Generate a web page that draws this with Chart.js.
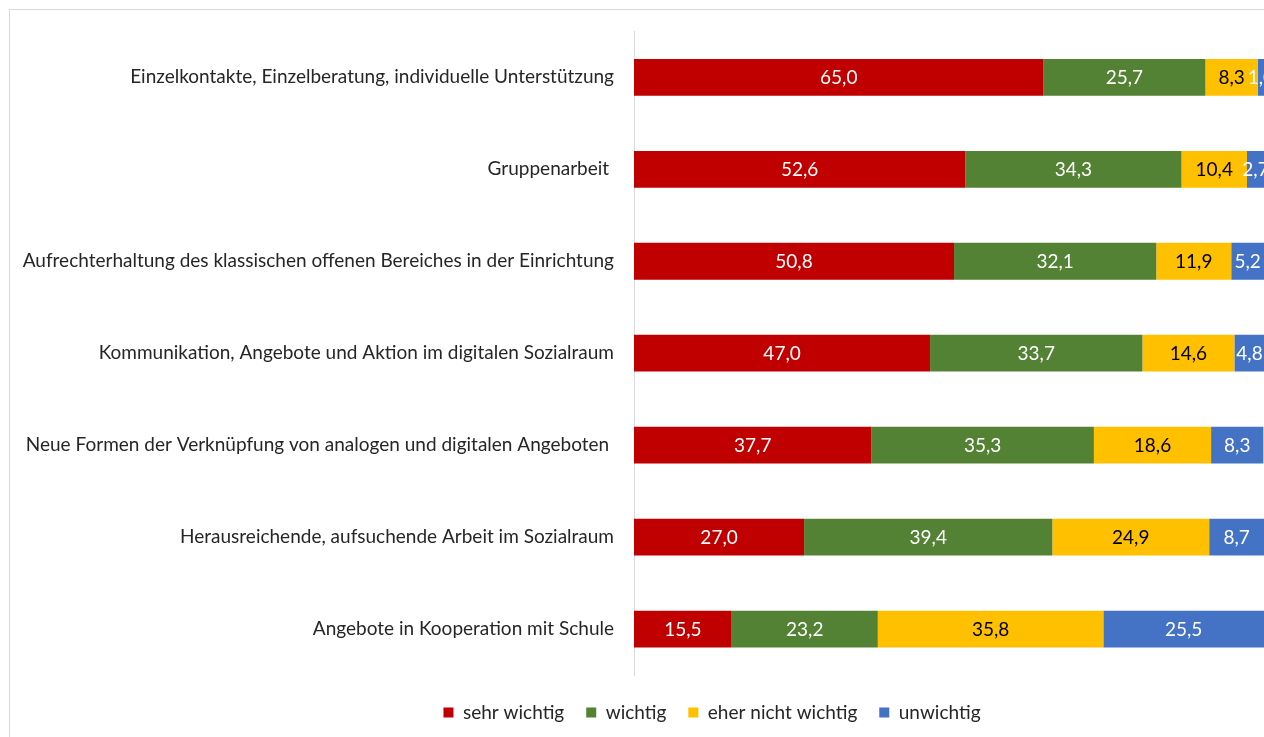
<!DOCTYPE html>
<html>
<head>
	<meta charset="utf-8">
	<title>Angebote</title>
	<style>
		html, body { margin: 0; padding: 0; overflow: hidden; background: #fff; }
		.wrap { width: 1424px; height: 737px; }
	</style>
</head>
<body>
	<div class="wrap"><canvas id="chart" width="1424" height="737"></canvas></div>
	<script src="https://cdn.jsdelivr.net/npm/chart.js@4/dist/chart.umd.min.js"></script>
	<script>
		'use strict'

		const categories = [
			'Einzelkontakte, Einzelberatung, individuelle Unterstützung',
			'Gruppenarbeit ',
			'Aufrechterhaltung des klassischen offenen Bereiches in der Einrichtung',
			'Kommunikation, Angebote und Aktion im digitalen Sozialraum',
			'Neue Formen der Verknüpfung von analogen und digitalen Angeboten ',
			'Herausreichende, aufsuchende Arbeit im Sozialraum',
			'Angebote in Kooperation mit Schule'
		]
		const seriesNames = ['sehr wichtig', 'wichtig', 'eher nicht wichtig', 'unwichtig']
		const sehrWichtig = [65.0, 52.6, 50.8, 47.0, 37.7, 27.0, 15.5]
		const wichtig = [25.7, 34.3, 32.1, 33.7, 35.3, 39.4, 23.2]
		const eherNicht = [8.3, 10.4, 11.9, 14.6, 18.6, 24.9, 35.8]
		const unwichtig = [1.0, 2.7, 5.2, 4.8, 8.3, 8.7, 25.5]

		const colors = ['#C00000', '#548235', '#FFC000', '#4472C4']
		const labelColors = ['#fff', '#fff', '#000', '#fff']
		const font = 'Lato'

		// draws the value in the middle of each segment
		const valueLabels = {
			id: 'valueLabels',
			afterDatasetsDraw(chart) {
				const ctx = chart.ctx
				ctx.save()
				ctx.font = '19px ' + font
				ctx.textAlign = 'center'
				ctx.textBaseline = 'middle'
				chart.data.datasets.forEach((ds, i) => {
					const meta = chart.getDatasetMeta(i)
					meta.data.forEach((bar, j) => {
						const v = ds.data[j]
						ctx.fillStyle = labelColors[i]
						ctx.fillText(v.toFixed(1).replace('.', ','), (bar.x + bar.base) / 2, bar.y + 1)
					})
				})
				ctx.restore()
			}
		}

		const frame = {
			id: 'frame',
			beforeDraw(chart) {
				const ctx = chart.ctx
				ctx.save()
				ctx.strokeStyle = '#D9D9D9'
				ctx.lineWidth = 1
				ctx.strokeRect(9.5, 9.5, chart.width - 19, chart.height + 20)
				ctx.restore()
			}
		}

		const data = {
			labels: categories,
			datasets: [sehrWichtig, wichtig, eherNicht, unwichtig].map((vals, i) => ({
				label: seriesNames[i],
				data: vals,
				backgroundColor: colors[i],
				borderWidth: 0,
				barPercentage: 1,
				categoryPercentage: 0.4
			}))
		}

		new Chart(document.getElementById('chart'), {
			type: 'bar',
			data,
			plugins: [frame, valueLabels],
			options: {
				indexAxis: 'y',
				responsive: false,
				animation: false,
				layout: { padding: { top: 26, right: 0, bottom: 5, left: 0 } },
				plugins: {
					legend: {
						position: 'bottom',
						labels: {
							boxWidth: 10,
							boxHeight: 10,
							padding: 22,
							color: '#262626',
							font: { family: font, size: 19 }
						}
					},
					tooltip: { enabled: false }
				},
				scales: {
					x: {
						stacked: true,
						min: 0,
						max: 100,
						grid: { display: false },
						border: { display: false },
						ticks: { display: false },
						afterFit(scale) { scale.height = 6 }
					},
					y: {
						stacked: true,
						grid: { display: false, drawTicks: false },
						border: { color: '#D9D9D9' },
						ticks: {
							padding: 20,
							color: '#262626',
							font: { family: font, size: 19 }
						},
						afterFit(scale) { scale.width = 634 }
					},
					// empty right margin, the reference is cut off at the right edge
					yRight: {
						position: 'right',
						grid: { display: false },
						border: { display: false },
						ticks: { display: false },
						afterFit(scale) { scale.width = 160 }
					}
				}
			}
		})
	</script>
</body>
</html>
